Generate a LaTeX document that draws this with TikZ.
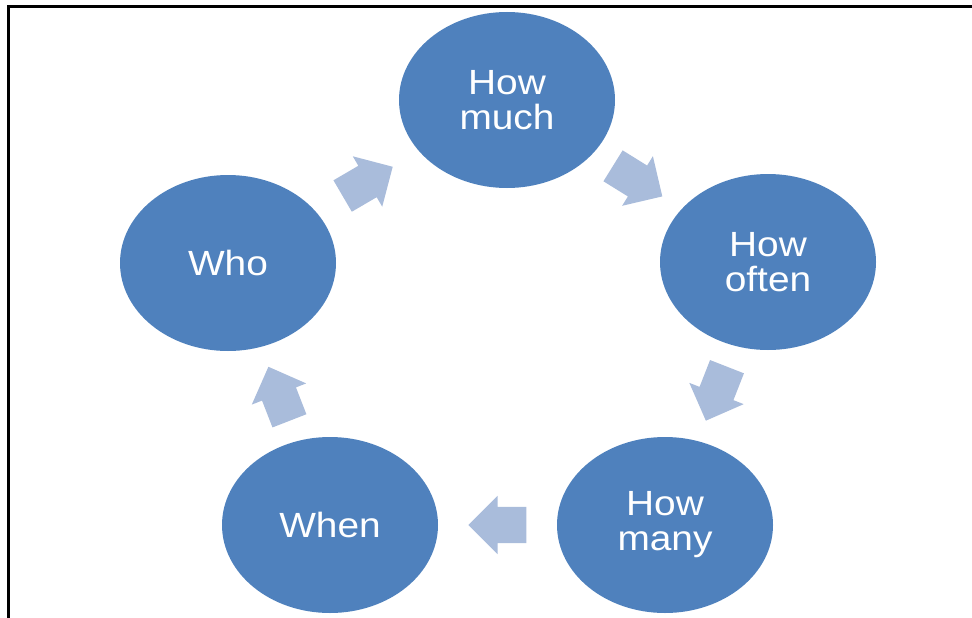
\documentclass[tikz,border=0pt]{standalone}
\usepackage{fontspec}
\usetikzlibrary{shapes.geometric,shapes.arrows,calc}
\newfontfamily\lblfont[FakeStretch=1.11]{Liberation Sans}
\definecolor{cycleblue}{HTML}{4F81BD}
\definecolor{arrowblue}{HTML}{A9BCDB}
\tikzset{
  stage/.style={ellipse, fill=cycleblue, minimum width=216pt, minimum height=176pt,
    inner sep=0pt, text=white, align=center,
    font=\lblfont\fontsize{35}{35}\selectfont},
  flowarrow/.style={single arrow, fill=arrowblue, draw=none,
    inner xsep=0pt, inner ysep=18pt, text height=0pt, text depth=0pt,
    minimum height=58pt, single arrow head extend=11pt,
    sloped, allow upside down, pos=0, anchor=tail},
  frameline/.style={line width=3pt, black}
}
% block arrow centred between two stages, pointing from #1 to #2
\newcommand\cyclearrow[3]{%
  \coordinate (m#3) at ($(#1)!0.5!(#2)$);
  \path ($(m#3)!29pt!(#1)$) -- node[flowarrow] (#3) {} (m#3);
}
\begin{document}
\begin{tikzpicture}[x=1pt,y=-1pt]
\useasboundingbox (0,0) rectangle (972,618);

% frame edges (top and left)
\coordinate (frameTR) at (972,7);
\coordinate (frameTL) at (8,7);
\coordinate (frameBL) at (8,618);
\draw[frameline] (frameTR) -- (frameTL) -- (frameBL);

% the five stages of the cycle
\node[stage] (howmuch)  at (507,100) {How\\much};
\node[stage] (howoften) at (768,262) {How\\often};
\node[stage] (howmany)  at (665,525) {How\\many};
\node[stage] (when)     at (330,525) {When};
\node[stage] (who)      at (228,263) {Who};

% block arrows between neighbouring stages
\cyclearrow{who}{howmuch}{a1}
\cyclearrow{howmuch}{howoften}{a2}
\cyclearrow{howoften}{howmany}{a3}
\cyclearrow{howmany}{when}{a4}
\cyclearrow{when}{who}{a5}
\end{tikzpicture}
\end{document}
